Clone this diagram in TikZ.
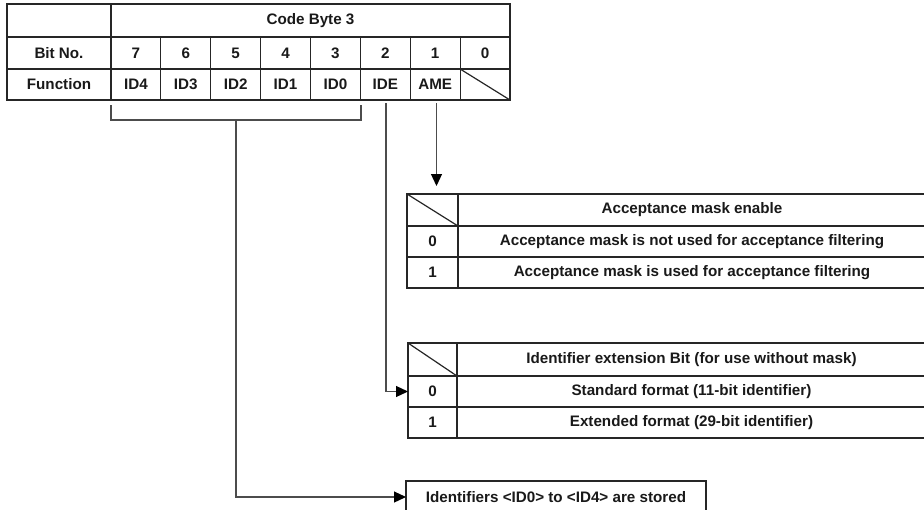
\documentclass[tikz,border=0pt]{standalone}
\usepackage{fontspec}
\setmainfont{Liberation Sans}
\usetikzlibrary{arrows.meta}
\definecolor{rulecol}{gray}{0.15}
\definecolor{wirecol}{gray}{0.3}
\begin{document}
\begin{tikzpicture}[x=1pt,y=-1pt,
  cell/.style={draw=rulecol, line width=1.2pt, inner sep=0pt, outer sep=0pt,
    anchor=north west, font=\fontsize{15.2}{18}\selectfont\bfseries, text=black!90},
  wire/.style={draw=wirecol, line width=1.2pt},
  tip/.style={-{Triangle[length=12pt,width=11pt,color=black]}}
]
\useasboundingbox (0,0) rectangle (924,509);
\clip (0,0) rectangle (924,509);
\def\cw{49.875}

% ---- register table: Code Byte 3 ----
\node[cell, minimum width=104, minimum height=33] (corner) at (7,4) {};
\node[cell, minimum width=399, minimum height=33] (title) at (111,4) {Code Byte 3};
\node[cell, minimum width=104, minimum height=32] (bitlbl) at (7,37) {Bit No.};
\node[cell, minimum width=104, minimum height=31] (funlbl) at (7,69) {Function};
\foreach \i/\b/\f in {0/7/ID4,1/6/ID3,2/5/ID2,3/4/ID1,4/3/ID0,5/2/IDE,6/1/AME,7/0/{}} {
  \node[cell, minimum width=\cw, minimum height=32] (b\b) at ({111+\i*\cw},37) {\b};
  \node[cell, minimum width=\cw, minimum height=31] (f\b) at ({111+\i*\cw},69) {\f};
}
\draw[rulecol, line width=1.2pt] (f0.north west) -- (f0.south east);

% ---- bracket over ID4..ID0 ----
\coordinate (brl) at (111,105);
\coordinate (brr) at (361,105);
\coordinate (brm) at (236,120);
\draw[wire] (brl) -- (111,120) -- (361,120) -- (brr);

% ---- acceptance mask table ----
\node[cell, minimum width=51, minimum height=32] (mh) at (407,194) {};
\node[cell, minimum width=468, minimum height=32] (mht) at (458,194) {Acceptance mask enable};
\node[cell, minimum width=51, minimum height=31] (m0) at (407,226) {0};
\node[cell, minimum width=468, minimum height=31] (m0t) at (458,226) {Acceptance mask is not used for acceptance filtering};
\node[cell, minimum width=51, minimum height=31] (m1) at (407,257) {1};
\node[cell, minimum width=468, minimum height=31] (m1t) at (458,257) {Acceptance mask is used for acceptance filtering};
\draw[rulecol, line width=1.2pt] (mh.north west) -- (mh.south east);

% ---- identifier extension table ----
\node[cell, minimum width=49, minimum height=33] (eh) at (408,343) {};
\node[cell, minimum width=469, minimum height=33] (eht) at (457,343) {Identifier extension Bit (for use without mask)};
\node[cell, minimum width=49, minimum height=31] (e0) at (408,376) {0};
\node[cell, minimum width=469, minimum height=31] (e0t) at (457,376) {Standard format (11-bit identifier)};
\node[cell, minimum width=49, minimum height=31] (e1) at (408,407) {1};
\node[cell, minimum width=469, minimum height=31] (e1t) at (457,407) {Extended format (29-bit identifier)};
\draw[rulecol, line width=1.2pt] (eh.north west) -- (eh.south east);

% ---- storage box ----
\node[cell, minimum width=300, minimum height=32] (store) at (406,481) {Identifiers <ID0> to <ID4> are stored};

% ---- connectors ----
\coordinate (ametop) at (436.5,103);
\coordinate (ameend) at (436.5,186);
\coordinate (idetop) at (386,103);
\draw[wire, tip] (ametop) -- (ameend);
\draw[wire, tip] (idetop) |- (e0.west);
\draw[wire, tip] (brm) |- (store.west);
\end{tikzpicture}
\end{document}
